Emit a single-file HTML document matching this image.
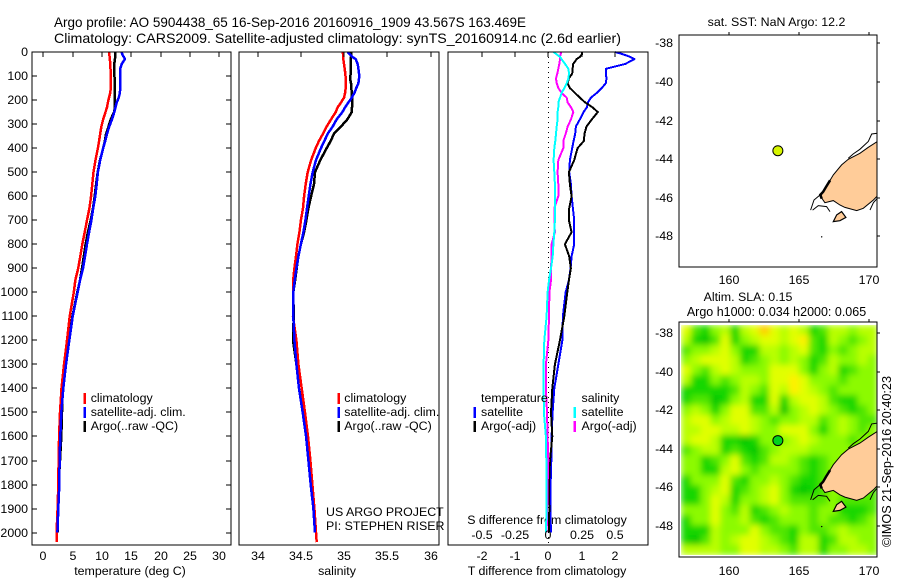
<!DOCTYPE html>
<html lang="en">
<head>
<meta charset="utf-8">
<title>Argo profile 5904438_65</title>
<style>
html,body{margin:0;padding:0;background:#fff;}
svg{display:block;}
text{font-family:"Liberation Sans",sans-serif;fill:#000;}
</style>
</head>
<body>
<svg id="chart" xmlns="http://www.w3.org/2000/svg" width="900" height="580" viewBox="0 0 900 580">
  <defs>
    <filter id="heat-blur" x="-5%" y="-5%" width="110%" height="110%">
      <feGaussianBlur stdDeviation="3.2" edgeMode="duplicate"/>
    </filter>
    <clipPath id="clip-heat"><rect x="681" y="325" width="196.3" height="230"/></clipPath>
    <clipPath id="clip-map1"><rect x="679.5" y="35" width="197.8" height="232"/></clipPath>
    <clipPath id="clip-map2"><rect x="679.5" y="322" width="197.8" height="235"/></clipPath>
  </defs>
  <text x="54" y="27" font-size="14" textLength="472" lengthAdjust="spacingAndGlyphs">Argo profile: AO 5904438_65 16-Sep-2016 20160916_1909 43.567S 163.469E</text>
  <text x="54" y="43" font-size="14" textLength="567" lengthAdjust="spacingAndGlyphs">Climatology: CARS2009. Satellite-adjusted climatology: synTS_20160914.nc (2.6d earlier)</text>
  <text x="776.5" y="26" font-size="12.4" text-anchor="middle">sat. SST: NaN Argo: 12.2</text>
  <text x="748" y="301" font-size="12.4" text-anchor="middle">Altim. SLA: 0.15</text>
  <text x="776.5" y="316" font-size="12.5" text-anchor="middle">Argo h1000: 0.034 h2000: 0.065</text>
  <text transform="translate(891,547) rotate(-90)" font-size="12.5" textLength="171" lengthAdjust="spacingAndGlyphs">©IMOS 21-Sep-2016 20:40:23</text>
  <text x="326" y="516" font-size="12.4">US ARGO PROJECT</text>
  <text x="326" y="530" font-size="12.4">PI: STEPHEN RISER</text>
  <text x="130" y="575" font-size="12.4" text-anchor="middle">temperature (deg C)</text>
  <text x="337" y="575" font-size="12.4" text-anchor="middle">salinity</text>
  <text x="547" y="575" font-size="12.4" text-anchor="middle">T difference from climatology</text>
  <text x="547" y="524" font-size="12.4" text-anchor="middle">S difference from climatology</text>
  <g id="plots"></g>
</svg>
<script>
// ---- profile data ----
const depthLevels = [0,10,20,30,50,70,90,110,130,150,170,190,210,230,250,280,310,340,370,400,450,500,550,600,650,700,750,800,850,900,950,1000,1100,1200,1300,1400,1500,1600,1700,1800,1900,2000,2040];
const tempClimatology = [11.2,11.25,11.3,11.35,11.4,11.45,11.5,11.5,11.5,11.5,11.4,11.2,11.0,10.85,10.6,10.2,9.9,9.7,9.5,9.3,8.9,8.55,8.35,8.15,7.85,7.45,7.05,6.65,6.3,5.95,5.45,5.2,4.5,4.03,3.52,3.1,2.84,2.7,2.6,2.55,2.44,2.27,2.27];
const tempSatellite = [13.35,13.45,13.7,13.9,13.35,13.1,13.1,13.1,13.1,13.1,13.05,12.85,12.5,12.3,12.1,11.7,11.25,10.85,10.55,10.2,9.7,9.3,9.1,8.86,8.5,8.2,7.8,7.45,7.1,6.76,6.25,5.85,5.0,4.43,3.86,3.4,3.07,2.9,2.78,2.73,2.56,2.4,null];
const tempArgo = [12.27,12.27,12.27,12.2,12.1,12.1,12.1,12.15,12.15,12.15,12.15,12.15,12.15,12.2,12.05,11.5,11.1,10.7,10.5,10.2,9.66,9.26,9,8.75,8.47,8.07,7.6,7.2,6.9,6.6,6.25,5.8,4.95,4.32,3.75,3.3,3.18,3.07,2.84,2.6,2.5,2.45,null];
const salClimatology = [34.979,34.987,34.987,34.99,34.998,35.006,35.013,35.017,35.017,35.017,35.01,34.998,34.963,34.925,34.902,34.848,34.798,34.755,34.709,34.671,34.617,34.578,34.555,34.536,34.524,34.5,34.482,34.459,34.443,34.424,34.41,34.41,34.408,34.447,34.47,34.509,34.547,34.582,34.609,34.632,34.655,34.674,34.682];
const salSatellite = [35.04,35.067,35.094,35.133,35.156,35.164,35.171,35.171,35.164,35.14,35.118,35.087,35.048,35.01,34.979,34.913,34.867,34.809,34.771,34.732,34.674,34.636,34.609,34.59,34.57,34.551,34.528,34.5,34.47,34.447,34.428,34.412,34.412,34.424,34.447,34.478,34.52,34.559,34.586,34.613,34.644,34.663,null];
const salArgo = [35.083,35.083,35.079,35.075,35.075,35.075,35.075,35.067,35.079,35.083,35.087,35.09,35.09,35.09,35.087,35.037,34.963,34.882,34.844,34.798,34.724,34.663,34.651,34.617,34.586,34.563,34.536,34.5,34.47,34.451,34.432,34.412,34.416,34.408,34.447,34.478,34.528,34.566,34.593,34.62,34.644,34.663,null];
const diffTempSatellite = [2.01,2.26,2.46,2.59,2.31,1.73,1.73,1.75,1.73,1.61,1.46,1.28,1.19,1.16,1.06,0.95,0.83,0.81,0.76,0.72,0.65,0.63,0.68,0.7,0.74,0.78,0.78,0.78,0.7,0.67,0.62,0.52,0.44,0.42,0.3,0.18,0.13,0.1,0.09,0.07,0.06,0.08,null];
const diffTempArgo = [1.01,1.01,0.95,0.85,0.75,0.73,0.72,0.62,0.58,0.65,0.8,0.95,1.11,1.33,1.49,1.31,1.15,1.09,1.07,0.88,0.78,0.62,0.65,0.7,0.63,0.62,0.7,0.5,0.63,0.68,0.62,0.57,0.48,0.35,0.2,0.12,0.08,0.12,0.05,0.02,0.03,0.02,null];
const diffSalSatellite = [0.038,0.063,0.088,0.1,0.126,0.151,0.156,0.151,0.138,0.121,0.1,0.088,0.075,0.075,0.07,0.07,0.063,0.058,0.053,0.045,0.04,0.045,0.05,0.05,0.05,0.05,0.045,0.038,0.033,0.02,0.005,-0.005,-0.013,-0.03,-0.035,-0.035,-0.033,-0.018,-0.015,-0.013,-0.013,-0.018,null];
const diffSalArgo = [0.095,0.093,0.088,0.088,0.083,0.075,0.068,0.058,0.063,0.075,0.1,0.138,0.146,0.171,0.188,0.171,0.146,0.131,0.113,0.113,0.075,0.07,0.075,0.075,0.045,0.045,0.05,0.025,0.025,0.02,0.02,0.008,0.005,0,-0.018,-0.018,-0.01,-0.005,0,-0.005,-0.008,-0.013,null];

// ---- tick labels ----
const depthTicks = [0,100,200,300,400,500,600,700,800,900,1000,1100,1200,1300,1400,1500,1600,1700,1800,1900,2000];
const tempTicks = [0,5,10,15,20,25,30];
const salTicks = [34,34.5,35,35.5,36];
const diffTicks = [-2,-1,0,1,2];
const diffSalTickLabels = ['-0.5','-0.25','0','0.25','0.5'];
const lonTicks = [160,165,170];
const latTicks = [-38,-40,-42,-44,-46,-48];

// ---- float position ----
const floatLon = [163.469];
const floatLat = [-43.567];

// ---- sea level anomaly grid (relative colour level, 20 columns x 23 rows) ----
const slaGrid = [
[5,2,1,3,4,1,4,5,7,5,4,5,4,1,2,4,4,3,4,4],
[4,1,0,2,5,1,3,4,5,5,4,5,6,2,1,4,3,2,3,4],
[2,3,3,4,5,3,1,1,4,4,3,4,5,2,1,3,2,3,4,4],
[3,4,5,5,5,4,1,2,3,4,3,4,3,1,2,4,3,3,4,3],
[5,3,2,4,5,4,3,3,3,5,5,5,3,1,3,4,1,2,3,3],
[4,1,1,3,2,3,4,4,3,5,5,6,5,3,3,3,2,3,3,3],
[1,1,1,1,1,2,4,3,2,5,4,6,5,4,3,2,3,3,3,3],
[1,2,2,0,1,3,4,1,1,5,1,4,5,5,4,2,1,1,3,3],
[3,4,3,1,3,5,5,2,2,4,0,3,4,5,4,3,2,1,2,3],
[4,5,5,3,4,5,5,4,3,2,3,3,4,4,2,3,4,3,2,2],
[4,4,5,5,4,4,5,4,3,3,5,5,5,3,1,3,4,3,2,3],
[4,5,5,4,1,1,0,1,3,3,3,4,5,4,3,3,3,2,3,3],
[2,3,4,4,1,2,1,0,2,3,4,4,4,3,3,3,3,3,3,3],
[3,3,1,2,3,5,2,1,2,4,4,3,2,1,2,3,3,3,3,3],
[3,3,1,1,4,5,3,2,3,3,3,3,2,1,2,3,3,3,3,3],
[1,3,3,3,5,2,1,3,3,4,3,2,1,1,2,3,3,3,3,3],
[1,1,3,4,5,1,2,3,4,5,3,1,0,1,2,3,3,3,3,2],
[1,1,3,5,4,1,3,3,4,5,3,2,2,2,2,3,2,2,2,2],
[3,3,3,5,3,2,4,1,2,3,4,3,3,2,3,3,1,1,1,2],
[1,3,3,5,3,3,4,2,1,2,3,3,3,2,3,2,2,1,2,3],
[1,1,1,4,3,3,3,5,3,2,2,1,3,2,2,3,4,3,3,3],
[1,0,2,4,3,4,5,5,4,3,2,1,4,4,1,2,4,4,3,3],
[4,4,4,4,3,3,5,5,4,4,3,2,4,4,1,3,3,4,4,3]
];

// ---- coastline (lon, lat) ----
const southIslandLon = [170.57,169.93,169.33,168.5,168.02,167.43,167.07,166.71,166.52,166.83,167.43,167.9,168.26,169.1,169.57,170.29,170.57];
const southIslandLat = [-43.09,-43.39,-43.7,-44.01,-44.3,-44.82,-45.25,-45.69,-45.94,-46.26,-46.15,-46.38,-46.5,-46.67,-46.55,-46.12,-45.91];
const stewartIslandLon = [167.43,167.67,168.02,168.33,167.9];
const stewartIslandLat = [-47.24,-46.89,-46.72,-47.02,-47.19];
const fiordLon = [167.2,166.9,166.7,166.5,166.6];
const fiordLat = [-45.1,-45.45,-45.7,-45.85,-46.05];
const contourWestCoastLon = [170.57,170.17,169.93,169.33,168.86,168.5];
const contourWestCoastLat = [-42.66,-42.7,-43.09,-43.49,-43.73,-43.96];
const contourFiordLon = [165.81,166.05,166.48];
const contourFiordLat = [-46.64,-46.12,-45.86];
const contourFoveauxLon = [165.95,166.36,166.95,167.19];
const contourFoveauxLat = [-46.64,-46.41,-46.46,-46.72];
const contourEastLon = [170.05,170.29,170.57];
const contourEastLat = [-46.64,-46.26,-46.03];

// ---- scales ----
const svgNS = 'http://www.w3.org/2000/svg';
const root = document.getElementById('plots');
const yDepth = d => 52 + d * 0.2403;
const xTemp = v => 43.3 + v * 5.87;
const xSal = v => 257.7 + (v - 34) * 86.5;
const xDiffT = v => 548.3 + v * 33.25;
const xDiffS = v => 548.3 + v * 133;
const xLon = v => 729.3 + (v - 160) * 14;
const yLatTop = v => 43.3 + (-38 - v) * 19.3;
const yLatBot = v => 333.3 + (-38 - v) * 19.27;
const heatColors = [[0,200,0],[20,215,0],[80,230,0],[140,250,0],[185,255,0],[225,255,0],[255,240,0],[255,205,0]];

function node(tag, parent) {
  const el = document.createElementNS(svgNS, tag);
  (parent || root).appendChild(el);
  return el;
}
function label(x, y, str, anchor, size, parent) {
  const t = node('text', parent);
  t.setAttribute('x', x);
  t.setAttribute('y', y);
  t.setAttribute('font-size', size || 12.4);
  t.setAttribute('text-anchor', anchor || 'middle');
  t.textContent = str;
  return t;
}
function seg(x1, y1, x2, y2, parent) {
  const l = node('line', parent);
  l.setAttribute('x1', x1);
  l.setAttribute('y1', y1);
  l.setAttribute('x2', x2);
  l.setAttribute('y2', y2);
  l.setAttribute('stroke', '#000');
  l.setAttribute('stroke-width', 1);
  l.setAttribute('shape-rendering', 'crispEdges');
  return l;
}
function frame(x, y, w, h, parent) {
  const r = node('rect', parent);
  r.setAttribute('x', x);
  r.setAttribute('y', y);
  r.setAttribute('width', w);
  r.setAttribute('height', h);
  r.setAttribute('fill', 'none');
  r.setAttribute('stroke', '#000');
  r.setAttribute('stroke-width', 1);
  r.setAttribute('shape-rendering', 'crispEdges');
  return r;
}
function profileLine(values, xScale, color, width, parent) {
  const pts = [];
  values.forEach((v, i) => {
    if (v !== null) pts.push(xScale(v).toFixed(1) + ',' + yDepth(depthLevels[i]).toFixed(1));
  });
  const p = node('polyline', parent);
  p.setAttribute('points', pts.join(' '));
  p.setAttribute('fill', 'none');
  p.setAttribute('stroke', color);
  p.setAttribute('stroke-width', width);
  p.setAttribute('stroke-linejoin', 'round');
  p.setAttribute('shape-rendering', 'crispEdges');
  return p;
}
function swatch(x, y, color, parent) {
  const r = node('rect', parent);
  r.setAttribute('x', x);
  r.setAttribute('y', y);
  r.setAttribute('width', 2.5);
  r.setAttribute('height', 11);
  r.setAttribute('fill', color);
  return r;
}
function geoPoints(lons, lats, yScale) {
  return lons.map((v, i) => xLon(v).toFixed(1) + ',' + yScale(lats[i]).toFixed(1)).join(' ');
}

// ---- panel 1: temperature ----
const p1 = node('g');


const l1a = profileLine(tempArgo, xTemp, '#000', 2.5, p1);


const l1b = profileLine(tempClimatology, xTemp, '#ff0000', 2.5, p1);


const l1c = profileLine(tempSatellite, xTemp, '#0000ff', 2.5, p1);


const f1 = frame(32, 52, 199, 493, p1);


depthTicks.forEach(d => {
  const y = Math.round(yDepth(d));
  const tl = seg(32, y, 37, y, p1);
  
  
  const tr = seg(226, y, 231, y, p1);
  
  
  const lb = label(28, y + 4, String(d), 'end', 12.4, p1);
  
  
});
tempTicks.forEach(v => {
  const x = Math.round(xTemp(v));
  const t = seg(x, 52, x, 57, p1);
  
  
  const lb = label(x, 560, String(v), 'middle', 12.4, p1);
  
  
});

// ---- panel 2: salinity ----
const p2 = node('g');


const l2a = profileLine(salArgo, xSal, '#000', 2.5, p2);


const l2b = profileLine(salClimatology, xSal, '#ff0000', 2.5, p2);


const l2c = profileLine(salSatellite, xSal, '#0000ff', 2.5, p2);


const f2 = frame(239, 52, 200, 493, p2);


salTicks.forEach(v => {
  const x = Math.round(xSal(v));
  const t = seg(x, 52, x, 57, p2);
  
  
  const lb = label(x, 560, String(v), 'middle', 12.4, p2);
  
  
});

// ---- panel 3: differences ----
const p3 = node('g');


const zero = seg(xDiffT(0), 52, xDiffT(0), 545, p3);
zero.setAttribute('stroke-dasharray', '1 4');


const l3a = profileLine(diffTempSatellite, xDiffT, '#0000ff', 2, p3);


const l3b = profileLine(diffTempArgo, xDiffT, '#000', 2, p3);


const l3c = profileLine(diffSalArgo, xDiffS, '#ff00ff', 2, p3);


const l3d = profileLine(diffSalSatellite, xDiffS, '#00ffff', 2, p3);


const f3 = frame(448, 52, 200, 493, p3);


diffTicks.forEach((v, i) => {
  const x = Math.round(xDiffT(v));
  const t = seg(x, 52, x, 57, p3);
  
  
  const lb = label(x, 560, String(v), 'middle', 12.4, p3);
  
  
  const ls = label(x, 539, diffSalTickLabels[i], 'middle', 12.4, p3);
  
  
});

// ---- legends ----
const lg = node('g');


const legendRows = [
  [83.5, 90.7, 393, 'climatology', '#ff0000', 402],
  [83.5, 90.7, 407, 'satellite-adj. clim.', '#0000ff', 416],
  [83.5, 90.7, 421, 'Argo(..raw -QC)', '#000', 430],
  [337.5, 344.3, 393, 'climatology', '#ff0000', 402],
  [337.5, 344.3, 407, 'satellite-adj. clim.', '#0000ff', 416],
  [337.5, 344.3, 421, 'Argo(..raw -QC)', '#000', 430],
  [473.5, 481, 407, 'satellite', '#0000ff', 416],
  [473.5, 481, 421, 'Argo(-adj)', '#000', 430],
  [573.5, 581.5, 407, 'satellite', '#00ffff', 416],
  [573.5, 581.5, 421, 'Argo(-adj)', '#ff00ff', 430]
];
legendRows.forEach(r => {
  const s = swatch(r[0], r[2], r[4], lg);
  
  
  const t = label(r[1], r[5], r[3], 'start', 12.4, lg);
  
  
});
const lgT = label(481, 402, 'temperature', 'start', 12.4, lg);


const lgS = label(581.5, 402, 'salinity', 'start', 12.4, lg);



// ---- maps ----
function drawCoast(parent, yScale) {
  const land = node('polygon', parent);
  land.setAttribute('points', geoPoints(southIslandLon, southIslandLat, yScale));
  land.setAttribute('fill', '#ffcc99');
  land.setAttribute('stroke', '#000');
  land.setAttribute('stroke-width', 1);
  
  
  const isl = node('polygon', parent);
  isl.setAttribute('points', geoPoints(stewartIslandLon, stewartIslandLat, yScale));
  isl.setAttribute('fill', '#ffcc99');
  isl.setAttribute('stroke', '#000');
  isl.setAttribute('stroke-width', 1.2);
  
  
  const fiord = node('polyline', parent);
  fiord.setAttribute('points', geoPoints(fiordLon, fiordLat, yScale));
  fiord.setAttribute('fill', 'none');
  fiord.setAttribute('stroke', '#000');
  fiord.setAttribute('stroke-width', 2.5);
  
  
  [[contourWestCoastLon, contourWestCoastLat], [contourFiordLon, contourFiordLat], [contourFoveauxLon, contourFoveauxLat], [contourEastLon, contourEastLat]].forEach(c => {
    const ln = node('polyline', parent);
    ln.setAttribute('points', geoPoints(c[0], c[1], yScale));
    ln.setAttribute('fill', 'none');
    ln.setAttribute('stroke', '#000');
    ln.setAttribute('stroke-width', 1);
    
    
  });
}
function drawMapAxes(parent, top, bottom, yScale, labelY) {
  const f = frame(679, top, 198, bottom - top, parent);
  
  
  lonTicks.forEach(v => {
    const x = Math.round(xLon(v));
    const t = seg(x, top - 3, x, top, parent);
    
    
    const lb = label(x, labelY, String(v), 'middle', 12.4, parent);
    
    
  });
  latTicks.forEach(v => {
    const y = Math.round(yScale(v));
    const t = seg(877, y, 880, y, parent);
    
    
    const lb = label(673, y + 4, String(v), 'end', 12.4, parent);
    
    
  });
}
function drawFloat(parent, yScale, color) {
  const c = node('circle', parent);
  c.setAttribute('cx', xLon(floatLon[0]));
  c.setAttribute('cy', yScale(floatLat[0]));
  c.setAttribute('r', 5);
  c.setAttribute('fill', color);
  c.setAttribute('stroke', '#000');
  c.setAttribute('stroke-width', 1);
  
  
}

const m1 = node('g');


const m1c = node('g', m1);
m1c.setAttribute('clip-path', 'url(#clip-map1)');
drawCoast(m1c, yLatTop);
const dot1 = node('circle', m1c);
dot1.setAttribute('cx', xLon(166.6));
dot1.setAttribute('cy', yLatTop(-48.03));
dot1.setAttribute('r', 0.7);
dot1.setAttribute('fill', '#000');


drawFloat(m1, yLatTop, '#d6f500');
drawMapAxes(m1, 35, 267, yLatTop, 284);

const m2 = node('g');


const clipHeat = node('g', m2);
clipHeat.setAttribute('clip-path', 'url(#clip-heat)');
const heat = node('g', clipHeat);
heat.setAttribute('filter', 'url(#heat-blur)');


const heatCols = slaGrid[0].length;
const heatRows = slaGrid.length;
const heatCellW = 196.3 / heatCols;
const heatCellH = 230 / heatRows;
slaGrid.forEach((row, r) => {
  row.forEach((v, c) => {
    const cell = node('rect', heat);
    const col = heatColors[Math.max(0, Math.min(heatColors.length - 1, Math.round(v)))];
    cell.setAttribute('x', 681 + c * heatCellW);
    cell.setAttribute('y', 325 + r * heatCellH);
    cell.setAttribute('width', heatCellW + 0.5);
    cell.setAttribute('height', heatCellH + 0.5);
    cell.setAttribute('fill', 'rgb(' + col.join(',') + ')');
    
    
  });
});
const m2c = node('g', m2);
m2c.setAttribute('clip-path', 'url(#clip-map2)');
drawCoast(m2c, yLatBot);
const dot2 = node('circle', m2c);
dot2.setAttribute('cx', xLon(166.6));
dot2.setAttribute('cy', yLatBot(-48.03));
dot2.setAttribute('r', 0.7);
dot2.setAttribute('fill', '#000');


drawFloat(m2, yLatBot, '#00d21e');
drawMapAxes(m2, 322, 557, yLatBot, 575);
</script>
</body>
</html>
